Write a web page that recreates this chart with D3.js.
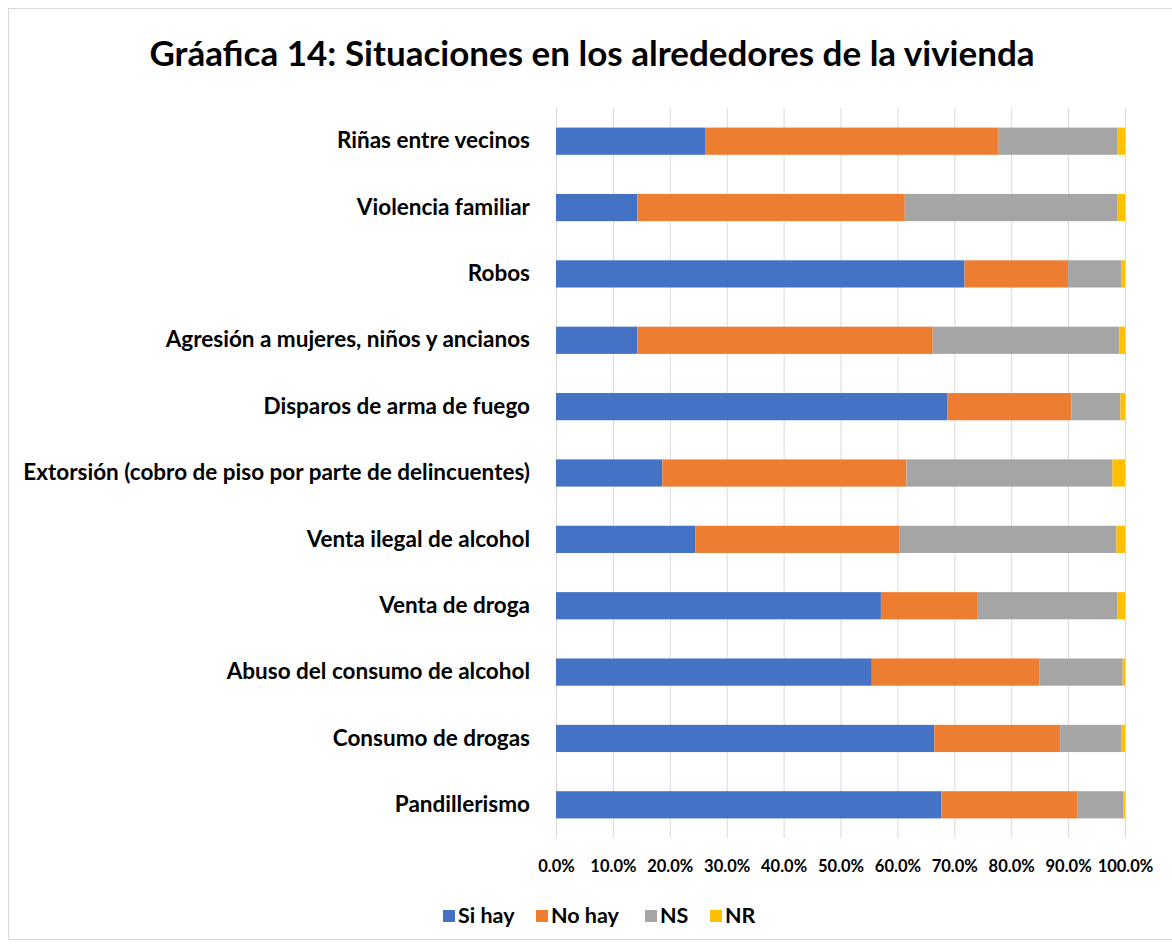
<!DOCTYPE html>
<html><head><meta charset="utf-8">
<script src="https://cdn.jsdelivr.net/npm/d3@7"></script>
<style>body{margin:0;background:#fff}svg{display:block}text{font-family:Lato,"Open Sans",sans-serif}</style>
</head><body>
<svg id="c" width="1172" height="947"></svg>
<script>
const categories = ["Riñas entre vecinos","Violencia familiar","Robos","Agresión a mujeres, niños y ancianos","Disparos de arma de fuego","Extorsión (cobro de piso por parte de delincuentes)","Venta ilegal de alcohol","Venta de droga","Abuso del consumo de alcohol","Consumo de drogas","Pandillerismo"];
const siHay  = [26.3,14.3,71.8,14.3,68.8,18.7,24.5,57.1,55.5,66.5,67.7];
const noHay  = [51.5,47.0,18.2,51.9,21.8,42.9,35.8,16.9,29.5,22.1,24.0];
const ns     = [20.8,37.3, 9.4,32.8, 8.6,36.2,38.2,24.7,14.6,10.8, 8.0];
const nr     = [ 1.4, 1.4, 0.6, 1.0, 0.8, 2.2, 1.5, 1.3, 0.4, 0.6, 0.3];
const seriesNames = ["Si hay","No hay","NS","NR"];
const colors = ["#4472C4","#ED7D31","#A5A5A5","#FFC000"];
const tickValues = [0,10,20,30,40,50,60,70,80,90,100];
const title = "Gráafica 14: Situaciones en los alrededores de la vivienda";

const svg = d3.select("#c");
svg.append("rect").attr("x",8.5).attr("y",8.5).attr("width",1180).attr("height",931)
  .attr("fill","#fff").attr("stroke","#d9d9d9");

const x = d3.scaleLinear().domain([0,100]).range([556,1125]);
const y = d3.scaleBand().domain(categories).range([108,838]).paddingInner(0.59).paddingOuter(0.295);

svg.append("text").attr("x",592).attr("y",66).attr("text-anchor","middle")
  .attr("font-size",35).attr("font-weight","bold").attr("fill","#000").text(title);

// grid
svg.append("g").selectAll("line").data(tickValues).join("line")
  .attr("x1",d=>x(d)+0.5).attr("x2",d=>x(d)+0.5).attr("y1",108).attr("y2",838)
  .attr("stroke","#d9d9d9").attr("stroke-width",1);

const stackData = categories.map((c,i)=>({cat:c,"Si hay":siHay[i],"No hay":noHay[i],"NS":ns[i],"NR":nr[i]}));
const stack = d3.stack().keys(seriesNames)(stackData);

svg.append("g").selectAll("g").data(stack).join("g").attr("fill",(d,i)=>colors[i])
  .selectAll("rect").data(d=>d).join("rect")
  .attr("x",d=>x(d[0])).attr("width",d=>Math.max(0,x(d[1])-x(d[0])))
  .attr("y",d=>y(d.data.cat)).attr("height",y.bandwidth());

// category labels
const yAxis = d3.axisLeft(y).tickSize(0).tickPadding(0);
const ga = svg.append("g").attr("transform","translate(530,0)").call(yAxis);
ga.select(".domain").remove();
ga.selectAll("text").attr("font-size",22.5).attr("font-weight","bold").attr("fill","#000")
  .attr("font-family","Lato, sans-serif");

// x axis
const xAxis = d3.axisBottom(x).tickValues(tickValues).tickSize(0).tickPadding(0).tickFormat(d=>d.toFixed(1)+"%");
const gx = svg.append("g").attr("transform","translate(0,872)").call(xAxis);
gx.select(".domain").remove();
gx.selectAll("text").attr("y",0).attr("dy",0).attr("font-size",16.5).attr("font-weight","bold").attr("fill","#000")
  .attr("font-family","Lato, sans-serif");

// legend
const legendX = [443,536,645,710];
const lg = svg.append("g").selectAll("g").data(seriesNames).join("g")
  .attr("transform",(d,i)=>`translate(${legendX[i]},910)`);
lg.append("rect").attr("width",12).attr("height",12).attr("fill",(d,i)=>colors[i]);
lg.append("text").attr("x",15).attr("y",12.5).attr("font-size",21.5).attr("font-weight","bold")
  .attr("fill","#000").text(d=>d);
</script>
</body></html>
